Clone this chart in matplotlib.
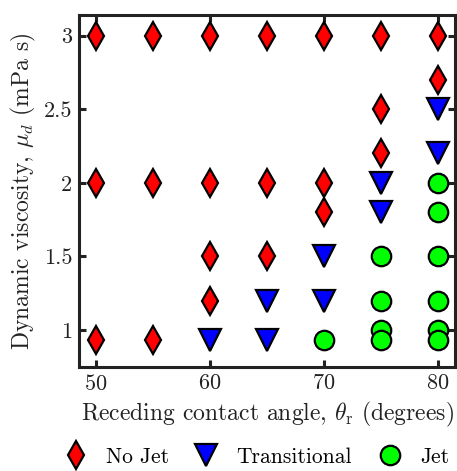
import matplotlib
matplotlib.use("Agg")
import matplotlib.pyplot as plt

plt.rcParams["font.family"] = "serif"
plt.rcParams["font.serif"] = ["cmr10", "DejaVu Serif"]
plt.rcParams["mathtext.fontset"] = "cm"
plt.rcParams["axes.formatter.use_mathtext"] = True

# receding contact angle (deg) / viscosity (mPa s) for each regime
nojet_x = [50, 50, 50, 55, 55, 55, 60, 60, 60, 60, 65, 65, 65, 70, 70, 70, 75, 75, 75, 80, 80]
nojet_y = [3.0, 2.0, 0.93, 3.0, 2.0, 0.93, 3.0, 2.0, 1.5, 1.2, 3.0, 2.0, 1.5, 3.0, 2.0, 1.8, 3.0, 2.5, 2.2, 3.0, 2.7]

trans_x = [60, 65, 65, 70, 70, 75, 75, 80, 80]
trans_y = [0.93, 1.2, 0.93, 1.5, 1.2, 2.0, 1.8, 2.5, 2.2]

jet_x = [70, 75, 75, 75, 75, 80, 80, 80, 80, 80, 80]
jet_y = [0.93, 1.5, 1.2, 1.0, 0.93, 2.0, 1.8, 1.5, 1.2, 1.0, 0.93]

fig = plt.figure(figsize=(4.57, 4.71), dpi=100)
ax = fig.add_axes([0.173, 0.221, 0.823, 0.747])

ax.plot(nojet_x, nojet_y, "d", ms=14, mfc="#ff0000", mec="k", mew=1.6, ls="none", label="No Jet")
ax.plot(trans_x, trans_y, "v", ms=15.5, mfc="#0000ff", mec="k", mew=1.6, ls="none", label="Transitional")
ax.plot(jet_x, jet_y, "o", ms=14, mfc="#00ff00", mec="k", mew=1.6, ls="none", label="Jet")

ax.set_xlim(48.5, 81.5)
ax.set_ylim(0.75, 3.14)
ax.set_xticks([50, 60, 70, 80])
ax.set_yticks([1, 1.5, 2, 2.5, 3])
ax.set_yticklabels(["1", "1.5", "2", "2.5", "3"])
ax.tick_params(direction="in", top=True, right=True, length=5, width=2.2,
               labelsize=16, colors="#222222", pad=5)
for s in ax.spines.values():
    s.set_linewidth(2.2)
    s.set_color("#222222")

ax.set_xlabel(r"Receding contact angle, $\theta_{\rm r}$ (degrees)", fontsize=17, color="#222222")
ax.set_ylabel(r"Dynamic viscosity, $\mu_d$ (mPa s)", fontsize=17, color="#222222")

ax.legend(loc="center", bbox_to_anchor=(0.47, -0.256), ncol=3, frameon=False,
          fontsize=15.5, handlelength=1.2, handletextpad=0.8, columnspacing=1.15,
          borderpad=0.1)

fig.savefig("out.png", dpi=100)
